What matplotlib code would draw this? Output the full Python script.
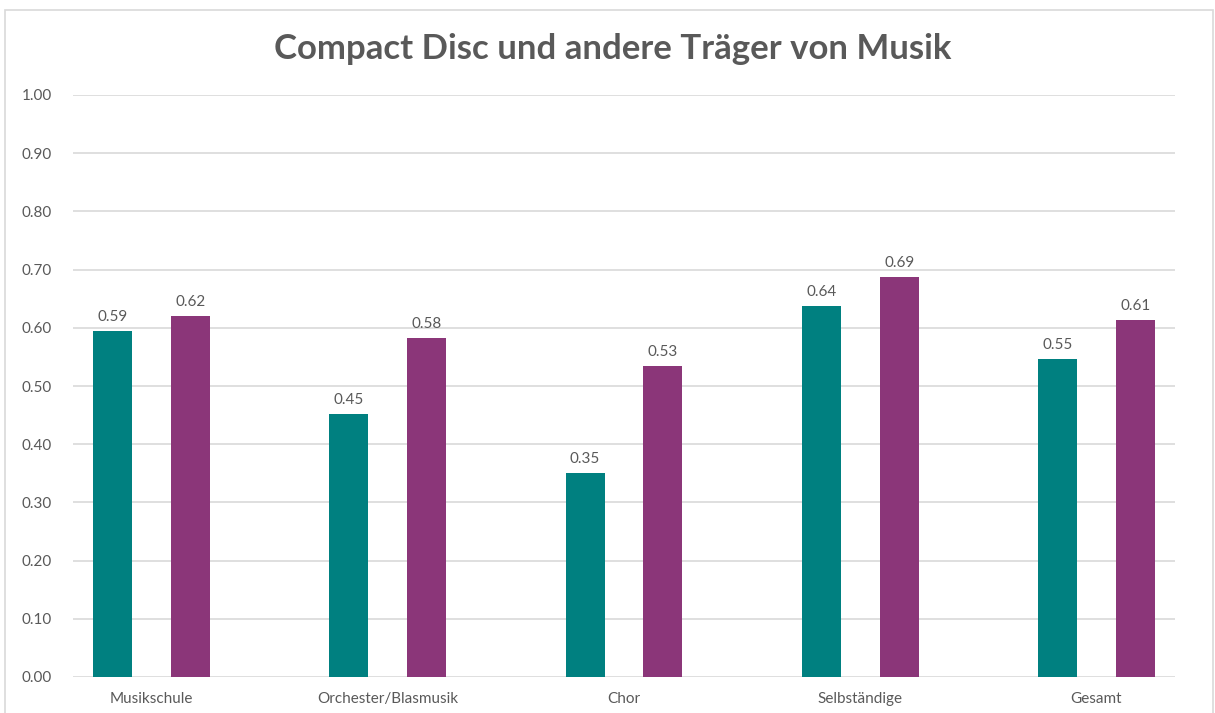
import matplotlib
matplotlib.use("Agg")
import matplotlib.pyplot as plt
from matplotlib.patches import Rectangle
import numpy as np

plt.rcParams['font.family'] = ['Lato', 'DejaVu Sans']

categories = ['Musikschule', 'Orchester/Blasmusik', 'Chor', 'Selbständige', 'Gesamt']
serie_a = [0.594, 0.452, 0.350, 0.637, 0.546]   # teal
serie_b = [0.620, 0.582, 0.534, 0.687, 0.613]   # purple
yticks = [0.0, 0.1, 0.2, 0.3, 0.4, 0.5, 0.6, 0.7, 0.8, 0.9, 1.0]

teal = '#008080'
purple = '#8B3679'
grey_txt = '#595959'
grid_c = '#D9D9D9'

fig = plt.figure(figsize=(12.15, 7.13), dpi=100)
ax = fig.add_axes([73/1215, 1-677/713, (1175-73)/1215, (677-95)/713])

x = np.arange(len(categories))
w = 0.165
b1 = ax.bar(x - w, serie_a, width=w, color=teal, zorder=3)
b2 = ax.bar(x + w, serie_b, width=w, color=purple, zorder=3)

for bars in (b1, b2):
    for r in bars:
        h = r.get_height()
        ax.annotate('%.2f' % h, (r.get_x() + r.get_width()/2, h),
                    xytext=(0, 5), textcoords='offset points',
                    ha='center', va='bottom', fontsize=11, color=grey_txt)

ax.set_xlim(-0.333, len(categories) - 1 + 0.333)
ax.set_ylim(0, 1.0)
ax.set_yticks(yticks)
ax.set_yticklabels(['%.2f' % v for v in yticks])
ax.set_xticks(x)
ax.set_xticklabels(categories)
ax.tick_params(axis='both', length=0, labelsize=11, labelcolor=grey_txt)
ax.tick_params(axis='y', pad=15)
ax.tick_params(axis='x', pad=11)
ax.grid(axis='y', color=grid_c, linewidth=1.2, zorder=0)
for s in ax.spines.values():
    s.set_visible(False)

fig.text(613/1215, 1-49/713, 'Compact Disc und andere Träger von Musik',
         ha='center', va='center', fontsize=25, fontweight='bold', color=grey_txt)

# outer chart frame
fig.patches.append(Rectangle((5/1215, -0.05), (1213-5)/1215, 1.05 - 10/713,
                             transform=fig.transFigure, fill=False,
                             edgecolor=grid_c, linewidth=1.2, clip_on=False))

fig.savefig('out.png', dpi=100)
